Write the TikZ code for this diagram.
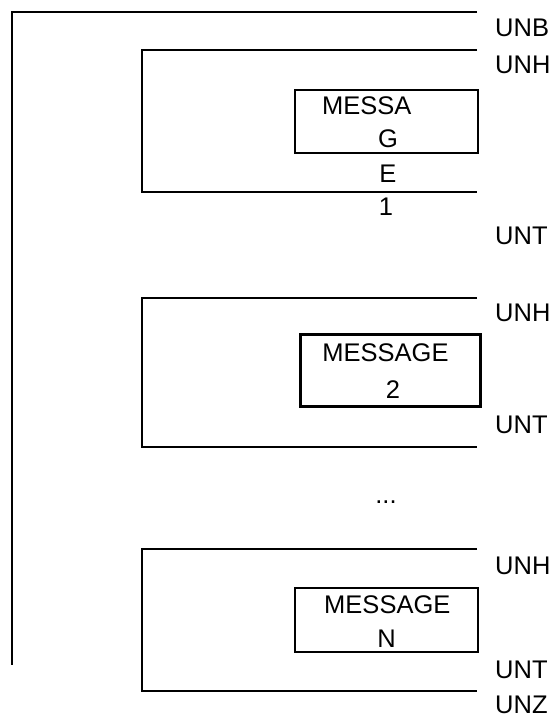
\documentclass[tikz,border=0pt]{standalone}
\usepackage{fontspec}
\setmainfont{Liberation Sans}
\begin{document}
\begin{tikzpicture}[x=1pt,y=-1pt,
  line/.style={line width=1.3pt},
  lbl/.style={anchor=base west,inner sep=0pt,font=\fontsize{25.5}{30}\selectfont},
  txt/.style={anchor=base,inner sep=0pt,font=\fontsize{25.5}{30}\selectfont},
  msgbox/.style={draw,line width=1.3pt,rectangle,inner sep=0pt},
  msgboxthick/.style={draw,line width=2.7pt,rectangle,inner sep=0pt}]
\useasboundingbox (0,0) rectangle (552,724);
% outer bracket
\coordinate (oTR) at (477,12);
\coordinate (oTL) at (12,12);
\coordinate (oB) at (12,665);
\draw[line] (oTR) -- (oTL) -- (oB);
% message group 1
\coordinate (aTR) at (477,50);
\coordinate (aTL) at (142,50);
\coordinate (aBL) at (142,192);
\coordinate (aBR) at (477,192);
\draw[line] (aTR) -- (aTL) -- (aBL) -- (aBR);
\node[msgbox,minimum width=183pt,minimum height=63pt] (m1) at (386.5,121.5) {};
\node[txt] (m1a) at (366.7,114.1) {MESSA};
\node[txt] (m1b) at (388,147.4) {G};
\node[txt] (m1c) at (388,182.4) {E};
\node[txt] (m1d) at (386,215.8) {1};
% message group 2
\coordinate (bTR) at (477,298);
\coordinate (bTL) at (142,298);
\coordinate (bBL) at (142,447);
\coordinate (bBR) at (477,447);
\draw[line] (bTR) -- (bTL) -- (bBL) -- (bBR);
\node[msgboxthick,minimum width=180pt,minimum height=72pt] (m2) at (390.5,370.8) {};
\node[txt] (m2a) at (385.5,361.5) {MESSAGE};
\node[txt] (m2b) at (393,398.3) {2};
% dots
\node[txt] (dots) at (386,503) {...};
% message group N
\coordinate (cTR) at (477,549);
\coordinate (cTL) at (142,549);
\coordinate (cBL) at (142,691);
\coordinate (cBR) at (477,691);
\draw[line] (cTR) -- (cTL) -- (cBL) -- (cBR);
\node[msgbox,minimum width=183pt,minimum height=64pt] (mN) at (386.5,620) {};
\node[txt] (mNa) at (387.3,613.5) {MESSAGE};
\node[txt] (mNb) at (386.7,647.3) {N};
% labels
\node[lbl] (unb) at (495,36.6) {UNB};
\node[lbl] (unh1) at (495,73.3) {UNH};
\node[lbl] (unt1) at (495,244.6) {UNT};
\node[lbl] (unh2) at (495,321.3) {UNH};
\node[lbl] (unt2) at (495,433.6) {UNT};
\node[lbl] (unh3) at (495,574) {UNH};
\node[lbl] (unt3) at (495,678) {UNT};
\node[lbl] (unz) at (495,713) {UNZ};
\end{tikzpicture}
\end{document}
